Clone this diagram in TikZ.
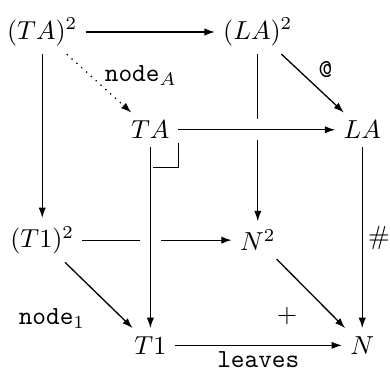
\documentclass[tikz,border=0pt]{standalone}
\usetikzlibrary{arrows.meta}

\begin{document}
\begin{tikzpicture}[
  obj/.style={inner sep=3pt},
  map/.style={-{Latex[length=4pt, width=2.8pt]}, line width=0.5pt},
  over/.style={preaction={draw=white, line width=8pt, -}},
  lbl/.style={inner sep=2pt}
]
  \useasboundingbox (0,0) rectangle (5.265,5.022);

  % ---- back face ----
  \node[obj] (TA2) at (0.57,4.59) {$(TA)^2$};
  \node[obj] (LA2) at (3.48,4.59) {$(LA)^2$};
  \node[obj] (T12) at (0.57,1.78) {$(T1)^2$};
  \node[obj] (N2)  at (3.48,1.78) {$N^2$};

  % ---- front face ----
  \node[obj] (TA) at (2.03,3.27) {$TA$};
  \node[obj] (LA) at (4.89,3.27) {$LA$};
  \node[obj] (T1) at (2.03,0.36) {$T1$};
  \node[obj] (N)  at (4.89,0.36) {$N$};

  % ---- arrows behind ----
  \draw[map] (TA2) -- (LA2);
  \draw[map] (TA2) -- (T12);
  \draw[map] (LA2) -- (N2);
  \draw[map] (T12) -- (N2);

  % ---- diagonals ----
  \draw[map, dotted] (TA2) -- (TA)
        node[midway, right, lbl, yshift=3pt] {\texttt{node}$_A$};
  \draw[map] (LA2) -- (LA)
        node[midway, above right, lbl] {\texttt{@}};
  \draw[map] (T12) -- (T1)
        node[midway, below left=3pt, lbl] {\texttt{node}$_1$};
  \draw[map] (N2) -- (N)
        node[midway, below left=3pt, lbl] {$+$};

  % ---- arrows in front (crossing over) ----
  \draw[map, over] (TA) -- (LA);
  \draw[map, over] (TA) -- (T1);
  \draw[map] (LA) -- (N)
        node[midway, right, lbl] {$\#$};
  \draw[map] (T1) -- (N)
        node[midway, below, lbl] {\texttt{leaves}};

  % ---- pullback corner ----
  \draw[line width=0.7pt] ([shift={(0.04,-0.51)}]TA.center) -- ++(0.34,0) -- ++(0,0.33);
\end{tikzpicture}
\end{document}
